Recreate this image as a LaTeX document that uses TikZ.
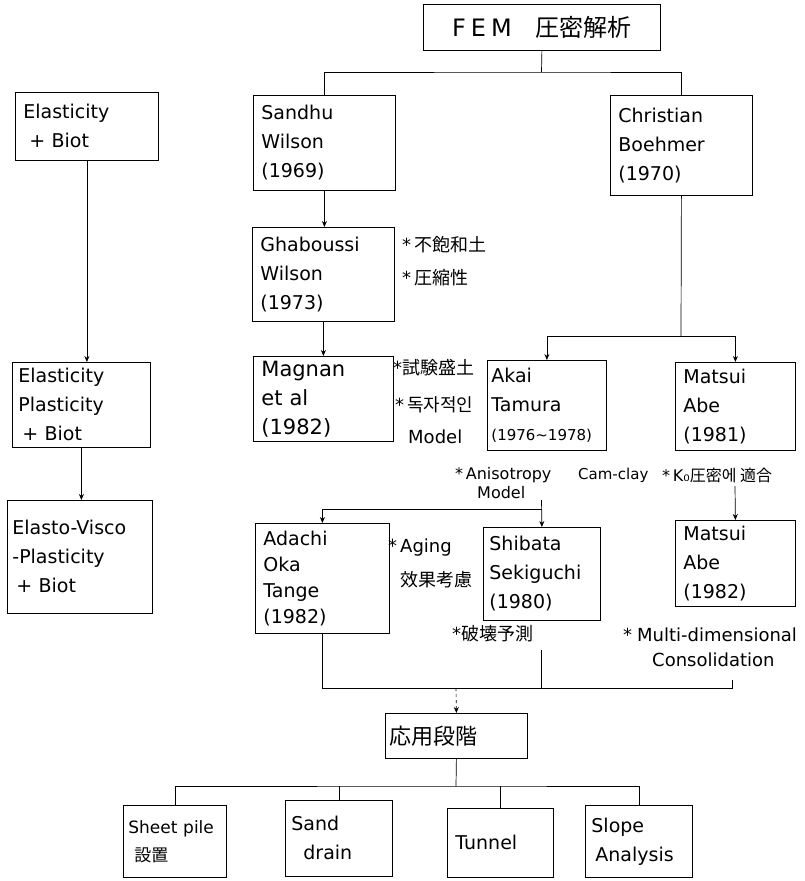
\documentclass[tikz,border=0pt]{standalone}
\usepackage{fontspec}
\setmainfont{DejaVu Sans}
\newfontfamily\cjk{Noto Sans CJK JP}
\usetikzlibrary{arrows.meta}
\begin{document}
\begin{tikzpicture}[x=1pt,y=-1pt]
\tikzset{
 hand/.style={font=\fontsize{19}{29}\selectfont},
 box/.style={draw, line width=0.8pt, anchor=north west, inner xsep=8pt, inner ysep=0pt, align=left, hand},
 note/.style={anchor=west, inner sep=0pt, font=\fontsize{18}{22}\selectfont},
 smallnote/.style={note, font=\fontsize{16}{20}\selectfont},
 conn/.style={line width=0.7pt},
 arr/.style={conn, -{Stealth[length=6pt,width=5pt]}},
}
\fill[white] (0,0) rectangle (805,881);
\useasboundingbox (0,0) rectangle (805,881);

% boxes
\node[box, align=center, text width=221pt, minimum height=46pt, font=\fontsize{24}{28}\selectfont] (title) at (423,4) {F\hspace{5pt}E\hspace{5pt}M\quad{\cjk 圧密解析}};
\node[box, text width=126pt, minimum height=95pt] (sandhu) at (253,95) {Sandhu\\Wilson\\(1969)};
\node[box, text width=126pt, minimum height=100pt] (christian) at (610,95) {Christian\\Boehmer\\(1970)};
\node[box, text width=127pt, minimum height=68pt] (elas1) at (15,92) {Elasticity\\\hspace{6pt}+ Biot};
\node[box, text width=126pt, minimum height=94pt] (ghab) at (252,227) {Ghaboussi\\Wilson\\(1973)};
\node[box, text width=124pt, minimum height=85pt, font=\fontsize{21}{29}\selectfont] (magnan) at (253,356) {Magnan\\et al\\(1982)};
\node[box, inner xsep=4pt, text width=111pt, minimum height=90pt] (akai) at (487,360) {Akai\\Tamura\\{\fontsize{15}{29}\selectfont(1976\textasciitilde1978)}};
\node[box, text width=104pt, minimum height=88pt] (matsui1) at (675,362) {Matsui\\Abe\\(1981)};
\node[box, inner xsep=6pt, text width=126pt, minimum height=85pt] (elas2) at (12,362) {Elasticity\\Plasticity\\\hspace{4pt}+ Biot};
\node[box, inner xsep=5pt, text width=135pt, minimum height=113pt] (elas3) at (7,500) {Elasto-Visco\\-Plasticity\\\hspace{4pt}+ Biot};
\node[box, text width=118pt, minimum height=110pt, font=\fontsize{19}{26}\selectfont] (adachi) at (255,523) {Adachi\\Oka\\Tange\\(1982)};
\node[box, inner xsep=6pt, text width=105pt, minimum height=93pt] (shibata) at (483,527) {Shibata\\Sekiguchi\\(1980)};
\node[box, text width=104pt, minimum height=86pt] (matsui2) at (675,520) {Matsui\\Abe\\(1982)};
\node[box, inner xsep=4pt, text width=134pt, minimum height=45pt, font=\cjk\fontsize{22}{26}\selectfont] (apply) at (385,713) {応用段階};
\node[box, inner xsep=5pt, text width=93pt, minimum height=72pt, font=\fontsize{17}{28}\selectfont] (sheet) at (123,805) {Sheet pile\\\hspace{6pt}{\cjk 設置}};
\node[box, inner xsep=6pt, text width=95pt, minimum height=76pt] (sand) at (285,800) {Sand\\\hspace{12pt}drain};
\node[box, inner xsep=8pt, text width=90pt, minimum height=69pt] (tunnel) at (447,808) {Tunnel};
\node[box, inner xsep=6pt, text width=95pt, minimum height=72pt] (slope) at (585,805) {Slope\\\hspace{4pt}Analysis};

% annotations
\node[note] (n1) at (402,245) {*\,{\cjk 不飽和土}};
\node[note] (n2) at (402,278) {*\,{\cjk 圧縮性}};
\node[note] (n3) at (393,368) {*{\cjk 試験盛土}};
\node[note] (n4) at (395,405) {*\,{\cjk 독자적인}};
\node[note] (n5) at (408,437) {Model};
\node[smallnote] (n6) at (455,475) {*\,Anisotropy};
\node[smallnote] (n7) at (477,493) {Model};
\node[smallnote, font=\fontsize{15}{20}\selectfont] (n8) at (578,475) {Cam-clay};
\node[smallnote] (n9) at (662,475) {*\,K₀{\cjk 圧密에 適合}};
\node[note] (n10) at (388,548) {*\,Aging};
\node[note] (n11) at (400,580) {{\cjk 效果考慮}};
\node[note] (n12) at (452,634) {*{\cjk 破壊予測}};
\node[note] (n13) at (623,635) {*\;Multi-dimensional};
\node[note] (n14) at (652,660) {Consolidation};

% connectors
\coordinate (j1) at (541.5,72);
\draw[conn] (title.south) -- (j1);
\draw[conn] (sandhu.north) |- (j1) -| (christian.north);
\draw[arr] (elas1.south) -- (elas1.south |- elas2.north);
\draw[arr] (elas2.south) -- (elas2.south |- elas3.north);
\draw[arr] (sandhu.south) -- (sandhu.south |- ghab.north);
\draw[arr] (ghab.south) -- (ghab.south |- magnan.north);
\coordinate (j2) at (681,336);
\draw[conn] (christian.south) -- (j2);
\draw[arr] (j2) -| (akai.north);
\draw[arr] (j2) -| (matsui1.north);
\coordinate (a1) at (541.5,500);
\coordinate (a2) at (541.5,509);
\draw[arr] (a1) -- (shibata.north);
\draw[arr] (a2) -| (adachi.north);
\coordinate (k1) at (735,486);
\draw[arr] (k1) -- (matsui2.north);
\coordinate (b1) at (456,688);
\coordinate (b2) at (732,688);
\coordinate (b3) at (732,680);
\coordinate (p1) at (541.5,650);
\draw[conn] (adachi.south) |- (b2) -- (b3);
\draw[conn] (p1) -- (p1 |- b1);
\draw[arr, dashed] (b1) -- (apply.north);
\coordinate (c1) at (456,786);
\draw[conn] (apply.south) -- (c1);
\draw[conn] (sheet.north) |- (c1) -| (slope.north);
\draw[conn] (sand.north) -- (sand.north |- c1);
\draw[conn] (tunnel.north) -- (tunnel.north |- c1);
\end{tikzpicture}
\end{document}
